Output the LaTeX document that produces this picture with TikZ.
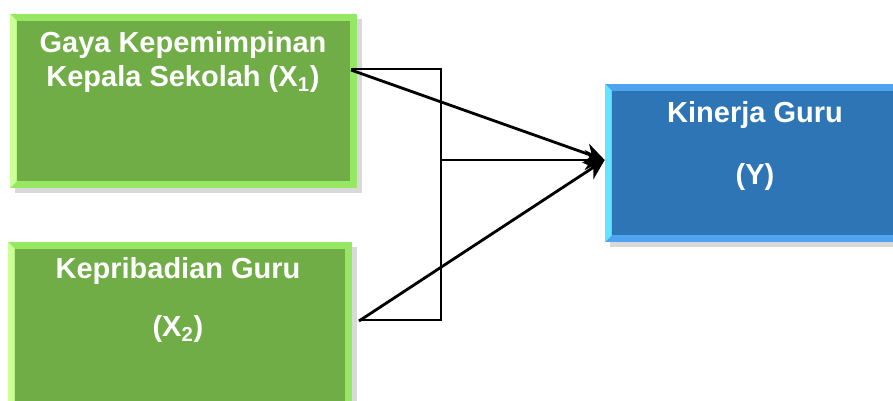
\documentclass[tikz,border=0pt]{standalone}
\usepackage{fontspec}
\setmainfont{Liberation Sans}
\usetikzlibrary{arrows.meta,shadows,positioning}
\definecolor{boxgreen}{RGB}{112,173,71}
\definecolor{bevelgreen}{RGB}{150,232,100}
\definecolor{edgegreen}{RGB}{205,255,150}
\definecolor{boxblue}{RGB}{46,117,182}
\definecolor{bevelblue}{RGB}{78,164,238}
\definecolor{edgeblue}{RGB}{102,228,255}
\tikzset{varbox/.style={rectangle,inner sep=0pt,drop shadow={opacity=0.3,shadow xshift=3pt,shadow yshift=-3pt}}}
\tikzset{greenvar/.style={varbox,fill=bevelgreen,path picture={
  \fill[edgegreen] (path picture bounding box.north west) -- ++(0.13cm,-0.13cm) |- ([shift={(0.13cm,0.13cm)}]path picture bounding box.south west) -- (path picture bounding box.south west) -- cycle;
  \fill[boxgreen] ([shift={(0.13cm,-0.13cm)}]path picture bounding box.north west) rectangle ([shift={(-0.13cm,0.13cm)}]path picture bounding box.south east);}}}
\tikzset{bluevar/.style={varbox,fill=bevelblue,path picture={
  \fill[edgeblue] (path picture bounding box.north west) -- ++(0.13cm,-0.13cm) |- ([shift={(0.13cm,0.13cm)}]path picture bounding box.south west) -- (path picture bounding box.south west) -- cycle;
  \fill[boxblue] ([shift={(0.13cm,-0.13cm)}]path picture bounding box.north west) rectangle ([shift={(-0.13cm,0.13cm)}]path picture bounding box.south east);}}}
\tikzset{vartext/.style={text=white,align=center,font=\fontsize{16.5}{19.5}\selectfont\bfseries}}
\tikzset{thinline/.style={line width=0.8pt}}
\tikzset{toY/.style={-{Stealth[length=4mm,width=4mm]},line width=1.6pt}}

\begin{document}
\begin{tikzpicture}[x=0.02cm,y=-0.02cm]
\useasboundingbox (0,0) rectangle (893,401);
\clip (0,0) rectangle (893,401);
% variable boxes
\node (xone) [greenvar,minimum width=6.94cm,minimum height=3.48cm] at (183.5,101) {};
\node (xtwo) [greenvar,minimum width=6.88cm,minimum height=3.4cm] at (180,327) {};
\node (yvar) [bluevar,minimum width=6.2cm,minimum height=3.16cm] at (760,163) {};
\node (xonetext) [vartext] at (183,62) {Gaya Kepemimpinan\\Kepala Sekolah (X\textsubscript{1})};
\node (xtwotext) [vartext] at (178,300) {Kepribadian Guru\\[14pt](X\textsubscript{2})};
\node (yvartext) [vartext] at (755,146) {Kinerja Guru\\[16pt](Y)};
% connectors
\coordinate (xoneout) at (351,70);
\coordinate (xtwoout) at (359,321);
\coordinate (bartop) at (441,69);
\coordinate (barmid) at (441,160);
\coordinate (barbot) at (441,320);
\coordinate (yin) at (yvar.west |- barmid);
\draw[thinline] (xoneout |- bartop) -- (bartop) -- (barbot) -- (xtwoout |- barbot);
\draw[toY] (xoneout) -- (yin);
\draw[toY] (xtwoout) -- (yin);
\draw[toY] (barmid) -- (yin);
\end{tikzpicture}
\end{document}
